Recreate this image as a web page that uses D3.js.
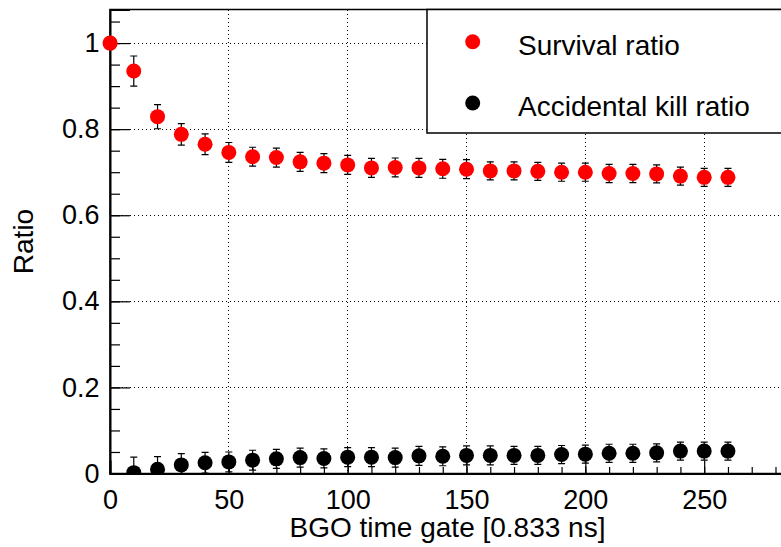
<!DOCTYPE html>
<html>
<head>
<meta charset="utf-8">
<script src="https://cdn.jsdelivr.net/npm/d3@7"></script>
<style>
  body { margin: 0; background: #fff; }
  text { font-family: "Liberation Sans", Arial, sans-serif; }
</style>
</head>
<body>
<div id="chart"></div>
<script>
// gate values (BGO time gate, in 0.833 ns units)
const gateSurvival = [0,10,20,30,40,50,60,70,80,90,100,110,120,130,140,150,160,170,180,190,200,210,220,230,240,250,260];
const survival = [1.0,0.935,0.829,0.788,0.765,0.746,0.736,0.734,0.724,0.721,0.717,0.710,0.711,0.710,0.708,0.707,0.703,0.703,0.702,0.700,0.700,0.697,0.697,0.696,0.691,0.688,0.688];
const survivalErr = [0,0.035,0.028,0.025,0.024,0.023,0.022,0.022,0.022,0.022,0.022,0.022,0.022,0.022,0.022,0.022,0.021,0.021,0.021,0.021,0.021,0.021,0.021,0.021,0.021,0.021,0.021];

const gateKill = [10,20,30,40,50,60,70,80,90,100,110,120,130,140,150,160,170,180,190,200,210,220,230,240,250,260];
const kill = [0.002,0.010,0.020,0.025,0.027,0.031,0.034,0.037,0.035,0.038,0.038,0.037,0.041,0.040,0.042,0.042,0.042,0.042,0.044,0.045,0.047,0.047,0.048,0.052,0.052,0.052];
const killErr = [0.036,0.029,0.026,0.024,0.023,0.023,0.022,0.022,0.022,0.022,0.022,0.022,0.022,0.022,0.022,0.022,0.021,0.021,0.021,0.021,0.021,0.021,0.021,0.021,0.021,0.021];

const xTicks = [0,50,100,150,200,250];
const yTicks = [0,0.2,0.4,0.6,0.8,1];
const legendLabels = ["Survival ratio","Accidental kill ratio"];
const seriesColors = ["#ff0000","#000000"];

const W = 781, H = 547;
const margin = {left:110, top:9.5, right:-4, bottom:73.5};
const fw = W - margin.left - margin.right;
const fh = H - margin.top - margin.bottom;

const svg = d3.select("#chart").append("svg")
  .attr("width", W).attr("height", H)
  .style("display","block");

const x = d3.scaleLinear().domain([0, 284]).range([0, fw]);
const y = d3.scaleLinear().domain([0, 1.078]).range([fh, 0]);

const g = svg.append("g").attr("transform", `translate(${margin.left},${margin.top})`);

g.append("clipPath").attr("id","frameclip")
  .append("rect").attr("width", fw).attr("height", fh);

// grid
g.selectAll(".vgrid").data(xTicks.filter(d => d > 0)).join("line")
  .attr("x1", d => x(d)).attr("x2", d => x(d))
  .attr("y1", 0).attr("y2", fh)
  .attr("stroke","#000").attr("stroke-width",1).attr("stroke-dasharray","1,3")
  .attr("shape-rendering","crispEdges");
g.selectAll(".hgrid").data(yTicks.filter(d => d > 0)).join("line")
  .attr("x1", 0).attr("x2", fw)
  .attr("y1", d => y(d)).attr("y2", d => y(d))
  .attr("stroke","#000").attr("stroke-width",1).attr("stroke-dasharray","1,3")
  .attr("shape-rendering","crispEdges");

// frame
g.append("rect").attr("width", fw).attr("height", fh)
  .attr("fill","none").attr("stroke","#000").attr("stroke-width",1.5);

// axes: ticks pointing inward
const xMinor = d3.range(0, 285, 10);
g.append("g").attr("transform", `translate(0,${fh})`)
  .call(d3.axisBottom(x).tickValues(xMinor).tickSize(-6.5).tickFormat(""))
  .call(a => a.select(".domain").remove());
const xAxis = g.append("g").attr("transform", `translate(0,${fh})`)
  .call(d3.axisBottom(x).tickValues(xTicks).tickSize(-13).tickPadding(16).tickFormat(d3.format("d")));
xAxis.select(".domain").attr("stroke-width",2);

const yMinor = d3.range(0, 1.076, 0.05);
g.append("g")
  .call(d3.axisLeft(y).tickValues(yMinor).tickSize(-10).tickFormat(""))
  .call(a => a.select(".domain").remove());
const yAxis = g.append("g")
  .call(d3.axisLeft(y).tickValues(yTicks).tickSize(-20).tickPadding(10.5).tickFormat(d => d === 0 || d === 1 ? d3.format("d")(d) : d3.format(".1f")(d)));
yAxis.select(".domain").attr("stroke-width",2);

svg.selectAll(".tick line").attr("stroke","#000").attr("stroke-width",1.2);
svg.selectAll(".tick text").attr("fill","#000")
  .style("font-family","'Liberation Sans', Arial, sans-serif").style("font-size","27px");

// axis titles
svg.append("text")
  .attr("x", margin.left + fw/2).attr("y", 537)
  .attr("text-anchor","middle").style("font-size","28px")
  .text("BGO time gate [0.833 ns]");
svg.append("text")
  .attr("transform", `translate(33,${margin.top + fh/2}) rotate(-90)`)
  .attr("text-anchor","middle").style("font-size","28px")
  .text("Ratio");

// data
const plot = g.append("g").attr("clip-path","url(#frameclip)");
const series = [
  {xs: gateSurvival, ys: survival, es: survivalErr, color: seriesColors[0]},
  {xs: gateKill, ys: kill, es: killErr, color: seriesColors[1]}
];
series.forEach(s => {
  const pts = s.xs.map((gx, i) => ({x: gx, y: s.ys[i], e: s.es[i]}));
  const eg = plot.append("g").attr("stroke","#000").attr("stroke-width",1.2);
  eg.selectAll(".ebar").data(pts.filter(p => p.e > 0)).join("line")
    .attr("x1", p => x(p.x)).attr("x2", p => x(p.x))
    .attr("y1", p => y(p.y + p.e)).attr("y2", p => y(p.y - p.e));
  eg.selectAll(".ecapt").data(pts.filter(p => p.e > 0)).join("line")
    .attr("x1", p => x(p.x) - 3.5).attr("x2", p => x(p.x) + 3.5)
    .attr("y1", p => y(p.y + p.e)).attr("y2", p => y(p.y + p.e));
  eg.selectAll(".ecapb").data(pts.filter(p => p.e > 0)).join("line")
    .attr("x1", p => x(p.x) - 3.5).attr("x2", p => x(p.x) + 3.5)
    .attr("y1", p => y(p.y - p.e)).attr("y2", p => y(p.y - p.e));
  plot.append("g").selectAll("circle").data(pts).join("circle")
    .attr("cx", p => x(p.x)).attr("cy", p => y(p.y))
    .attr("r", 7.5).attr("fill", s.color);
});
// first point sits on the axis and is not clipped
g.append("circle").attr("cx", x(gateSurvival[0])).attr("cy", y(survival[0]))
  .attr("r", 7.5).attr("fill", seriesColors[0]);

// legend
const leg = svg.append("g");
leg.append("rect").attr("x", 427).attr("y", 9.5).attr("width", 370).attr("height", 123.5)
  .attr("fill","#fff").attr("stroke","#000").attr("stroke-width",1.5);
const legY = [41.7, 103];
legendLabels.forEach((lab, i) => {
  leg.append("circle").attr("cx", 472.7).attr("cy", legY[i]).attr("r", 7.5).attr("fill", seriesColors[i]);
  leg.append("text").attr("x", 518).attr("y", legY[i] + 13).style("font-size","28px").text(lab);
});
</script>
</body>
</html>
